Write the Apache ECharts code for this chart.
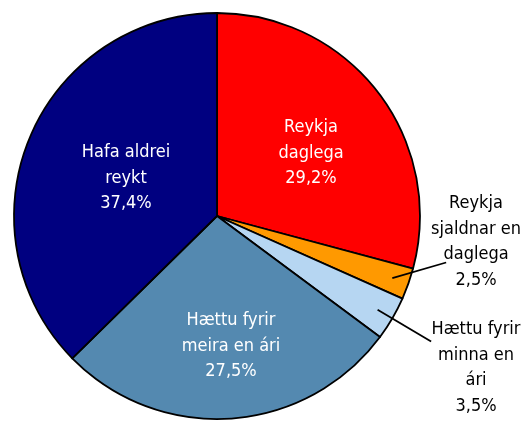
<!DOCTYPE html>
<html>
<head>
<meta charset="utf-8">
<script src="https://cdn.jsdelivr.net/npm/echarts@6/dist/echarts.min.js"></script>
<style>
  html, body { margin: 0; padding: 0; background: #fff; }
  #main { width: 527px; height: 421px; }
</style>
</head>
<body>
<div id="main"></div>
<script>
// flokkar og hlutföll (%), réttsælis frá toppi
var categories = ['Reykja\ndaglega', 'Reykja\nsjaldnar en\ndaglega', 'Hættu fyrir\nminna en\nári', 'Hættu fyrir\nmeira en ári', 'Hafa aldrei\nreykt'];
var shares = [29.2, 2.5, 3.5, 27.5, 37.4];
var colors = ['#ff0000', '#ff9900', '#b6d6f2', '#5489b0', '#000080'];

var font = '"DejaVu Sans Condensed", "Liberation Sans Narrow", sans-serif';
// hvar textinn á að lenda (miðja)
var labelPos = [[311, 153], [476, 242], [476, 368], [231, 346], [126, 178]];
var outside = [false, true, true, false, false];
// endar vísilínanna fyrir litlu sneiðarnar
var guideEnd = [null, [446, 262], [431, 342], null, null];

var myChart = echarts.init(document.getElementById('main'));

var data = [], guides = [];
for (var i = 0; i < shares.length; i++) {
    data.push({
        name: categories[i],
        value: shares[i],
        itemStyle: { color: colors[i] },
        label: { color: outside[i] ? '#000' : '#fff' }
    });
    guides.push({
        name: categories[i],
        value: shares[i],
        label: { show: outside[i] },
        labelLine: { show: outside[i] }
    });
}

var option = {
    animation: false,
    series: [{
        type: 'pie',
        z: 2,
        center: [217, 216],
        radius: 203,
        startAngle: 90,
        clockwise: true,
        avoidLabelOverlap: false,
        itemStyle: { borderColor: '#000', borderWidth: 1.8 },
        label: {
            position: 'inside',
            fontFamily: font,
            fontSize: 18,
            lineHeight: 25.5,
            align: 'center',
            formatter: function (p) {
                return p.name + '\n' + p.value.toFixed(1).replace('.', ',') + '%';
            }
        },
        labelLine: { show: false },
        labelLayout: function (p) {
            var pos = labelPos[p.dataIndex];
            return { x: pos[0], y: pos[1], align: 'center', verticalAlign: 'middle' };
        },
        data: data
    }, {
        // ósýnileg sneið sem ber bara vísilínurnar
        type: 'pie',
        z: 10,
        silent: true,
        center: [217, 216],
        radius: 186,
        startAngle: 90,
        clockwise: true,
        avoidLabelOverlap: false,
        itemStyle: { color: 'rgba(0,0,0,0)', borderWidth: 0 },
        label: { position: 'outside', formatter: ' ', fontSize: 1 },
        labelLine: {
            length: 0,
            length2: 0,
            lineStyle: { color: '#000', width: 1.8 }
        },
        labelLayout: function (p) {
            var e = guideEnd[p.dataIndex];
            return e ? { x: e[0], y: e[1] } : {};
        },
        data: guides
    }]
};

myChart.setOption(option);
</script>
</body>
</html>
